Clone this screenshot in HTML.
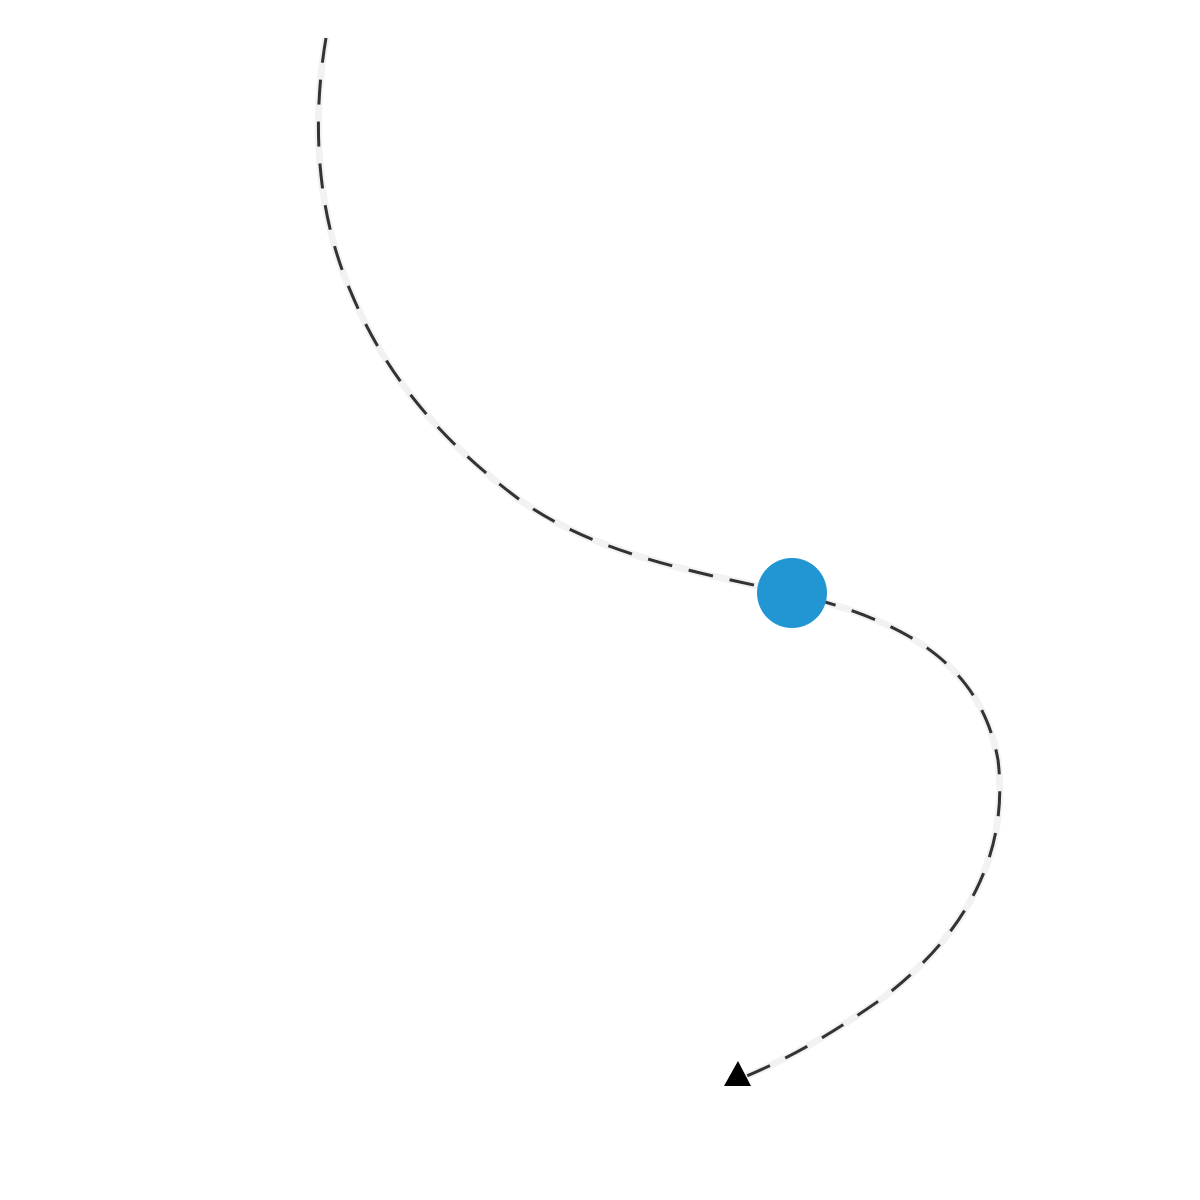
<!DOCTYPE html>
<html><head><style>html,body{margin:0;padding:0;background:#fff;width:1200px;height:1200px;overflow:hidden}</style></head>
<body>
<svg width="1200" height="1200" viewBox="0 0 1200 1200" xmlns="http://www.w3.org/2000/svg">
<path d="M326,38 C312,120 316,210 350,290 C385,375 440,440 520,500 C590,550 680,570 792,593 C900,620 980,660 998,760 C1010,860 960,940 880,1000 C830,1035 790,1058 742,1078" fill="none" stroke="#f2f2f2" stroke-width="7"/>
<path d="M326,38 C312,120 316,210 350,290 C385,375 440,440 520,500 C590,550 680,570 792,593 C900,620 980,660 998,760 C1010,860 960,940 880,1000 C830,1035 790,1058 742,1078" fill="none" stroke="#333" stroke-width="3" stroke-dasharray="25 17"/>
<polygon points="738,1061 751,1086 724,1086" fill="#000"/>
<circle cx="792" cy="593" r="35" fill="#2196d3"/>
</svg>
</body></html>
